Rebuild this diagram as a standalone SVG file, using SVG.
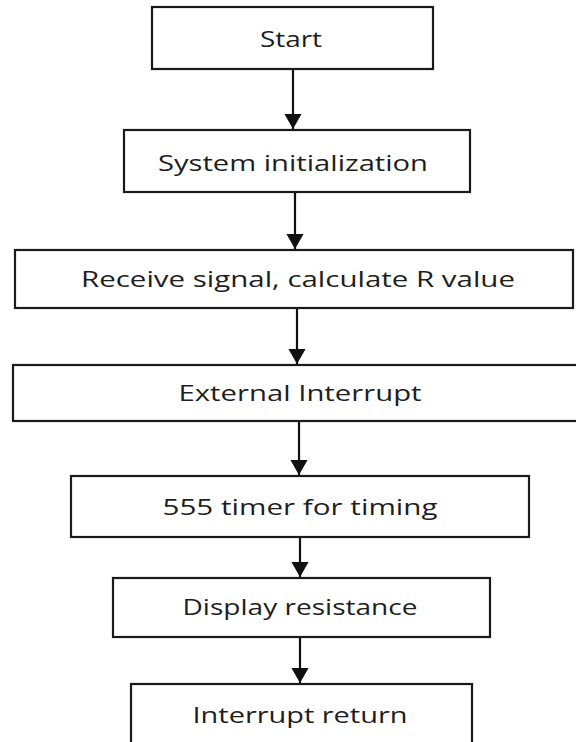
<svg xmlns="http://www.w3.org/2000/svg" width="576" height="742" viewBox="0 0 576 742">
<defs>
<marker id="ah" markerWidth="7" markerHeight="8" refX="7" refY="4" orient="auto" markerUnits="strokeWidth">
<path d="M0,0 L7,4 L0,8 Z" fill="#111"/>
</marker>
<style>
.box{fill:#fff;stroke:#1a1a1a;stroke-width:2.2}
.lbl{font-family:"Open Sans","Noto Sans","DejaVu Sans",sans-serif;font-size:22px;font-weight:500;fill:#1e1e1e;text-anchor:middle}
.con{stroke:#111;stroke-width:2.2;fill:none;marker-end:url(#ah)}
</style>
</defs>
<rect width="576" height="742" fill="#fff"/>
<g id="connectors">
<line class="con" x1="293" y1="69" x2="293" y2="129"/>
<line class="con" x1="295" y1="192" x2="295" y2="249"/>
<line class="con" x1="297" y1="308" x2="297" y2="364"/>
<line class="con" x1="299" y1="421" x2="299" y2="475"/>
<line class="con" x1="300" y1="537" x2="300" y2="577"/>
<line class="con" x1="300" y1="637" x2="300" y2="683"/>
</g>
<g id="n1"><rect class="box" x="152" y="7" width="281" height="62"/><text class="lbl" x="291" y="47" textLength="62" lengthAdjust="spacingAndGlyphs">Start</text></g>
<g id="n2"><rect class="box" x="124" y="130" width="346" height="62"/><text class="lbl" x="293" y="171" textLength="270" lengthAdjust="spacingAndGlyphs">System initialization</text></g>
<g id="n3"><rect class="box" x="15" y="250" width="558" height="58"/><text class="lbl" x="298" y="287" textLength="434" lengthAdjust="spacingAndGlyphs">Receive signal, calculate R value</text></g>
<g id="n4"><rect class="box" x="13" y="365" width="566" height="56"/><text class="lbl" x="300" y="401" textLength="243" lengthAdjust="spacingAndGlyphs">External Interrupt</text></g>
<g id="n5"><rect class="box" x="71" y="476" width="458" height="61"/><text class="lbl" x="300" y="515" textLength="275" lengthAdjust="spacingAndGlyphs">555 timer for timing</text></g>
<g id="n6"><rect class="box" x="113" y="578" width="377" height="59"/><text class="lbl" x="300" y="615" textLength="235" lengthAdjust="spacingAndGlyphs">Display resistance</text></g>
<g id="n7"><rect class="box" x="131" y="684" width="341" height="64"/><text class="lbl" x="300" y="723" textLength="215" lengthAdjust="spacingAndGlyphs">Interrupt return</text></g>
</svg>
